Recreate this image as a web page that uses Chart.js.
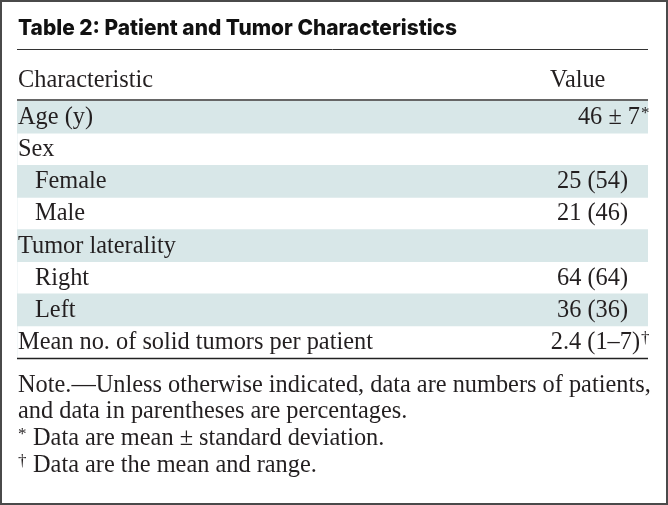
<!DOCTYPE html>
<html>
<head>
<meta charset="utf-8">
<script src="https://cdn.jsdelivr.net/npm/chart.js@4/dist/chart.umd.min.js"></script>
<style>
  html, body { margin: 0; padding: 0; background: #fff; }
  #wrap { width: 668px; height: 505px; }
</style>
</head>
<body>
<div id="wrap"><canvas id="table2" width="668" height="505"></canvas></div>
<script>
const title = 'Table 2: Patient and Tumor Characteristics';
const headers = ['Characteristic', 'Value'];
const rowLabels = ['Age (y)', 'Sex', 'Female', 'Male', 'Tumor laterality', 'Right', 'Left', 'Mean no. of solid tumors per patient'];
const rowIndent = [0, 0, 1, 1, 0, 1, 1, 0];
const rowValues = ['46 \u00b1 7', '', '25 (54)', '21 (46)', '', '64 (64)', '36 (36)', '2.4 (1\u20137)'];
const rowMarks = ['*', '', '', '', '', '', '', '\u2020'];
const rowShade = [1, 0, 1, 0, 1, 0, 1, 0];
const notes = [
  'Note.\u2014Unless otherwise indicated, data are numbers of patients,',
  'and data in parentheses are percentages.',
  '* Data are mean \u00b1 standard deviation.',
  '\u2020 Data are the mean and range.'
];

const serif = '"Liberation Serif", "DejaVu Serif", serif';
const ink = '#231f20';

const tablePlugin = {
  id: 'tableText',
  afterDraw(chart) {
    const ctx = chart.ctx;
    const area = chart.chartArea;
    const y = chart.scales.y;
    ctx.save();

    // body font size fitted to the widest row label
    ctx.font = '20px ' + serif;
    const bodySize = 20 * 355 / ctx.measureText(rowLabels[7]).width;
    const body = bodySize.toFixed(2) + 'px ' + serif;
    const small = (bodySize * 0.7).toFixed(2) + 'px ' + serif;

    // outer frame
    ctx.strokeStyle = '#4a4a4a';
    ctx.lineWidth = 2;
    ctx.strokeRect(1, 1, 666, 503);

    // title, squeezed to the reference width
    ctx.fillStyle = '#111';
    ctx.font = '800 22px Inter, Lato, "DejaVu Sans", sans-serif';
    ctx.textBaseline = 'alphabetic';
    const tw = ctx.measureText(title).width;
    ctx.save();
    ctx.translate(18, 35);
    ctx.scale(439 / tw, 1);
    ctx.fillText(title, 0, 0);
    ctx.restore();

    // rules
    ctx.strokeStyle = '#333';
    ctx.lineWidth = 1;
    ctx.beginPath();
    ctx.moveTo(area.left, 49.5);
    ctx.lineTo(area.right, 49.5);
    ctx.stroke();
    ctx.strokeStyle = '#666';
    ctx.lineWidth = 2;
    ctx.beginPath();
    ctx.moveTo(area.left, area.top - 1);
    ctx.lineTo(area.right, area.top - 1);
    ctx.stroke();
    ctx.strokeStyle = '#222';
    ctx.lineWidth = 1.5;
    ctx.beginPath();
    ctx.moveTo(area.left, area.bottom + 0.5);
    ctx.lineTo(area.right, area.bottom + 0.5);
    ctx.stroke();

    // header
    ctx.fillStyle = ink;
    ctx.font = body;
    ctx.textAlign = 'left';
    ctx.fillText(headers[0], 18, 87);
    ctx.fillText(headers[1], 550, 87);

    // rows
    rowLabels.forEach((lab, i) => {
      const cy = y.getPixelForValue(i) + 7;
      ctx.font = body;
      ctx.textAlign = 'left';
      ctx.fillText(lab, rowIndent[i] ? 35 : 18, cy);
      if (!rowValues[i]) return;
      ctx.textAlign = 'right';
      if (rowMarks[i]) {
        ctx.fillText(rowValues[i], 640, cy);
        ctx.textAlign = 'left';
        ctx.font = small;
        ctx.fillText(rowMarks[i], 641, cy - 6);
      } else {
        ctx.fillText(rowValues[i], 628, cy);
      }
    });

    // notes
    const noteY = [392, 418, 445, 472];
    notes.forEach((t, i) => {
      ctx.textAlign = 'left';
      if (i >= 2) {
        ctx.font = small;
        ctx.fillText(t[0], 18, noteY[i] - 6);
        ctx.font = body;
        ctx.fillText(t.slice(2), 33, noteY[i]);
      } else {
        ctx.font = body;
        ctx.fillText(t, 18, noteY[i]);
      }
    });
    ctx.restore();
  }
};

new Chart(document.getElementById('table2'), {
  type: 'bar',
  data: {
    labels: rowLabels,
    datasets: [{
      data: rowShade,
      backgroundColor: '#d8e7e8',
      borderWidth: 0,
      barPercentage: 1,
      categoryPercentage: 1
    }]
  },
  options: {
    indexAxis: 'y',
    responsive: false,
    animation: false,
    layout: { padding: { left: 17, right: 20, top: 101, bottom: 147 } },
    scales: {
      x: { display: false, min: 0, max: 1 },
      y: { display: false }
    },
    plugins: { legend: { display: false }, tooltip: { enabled: false } }
  },
  plugins: [tablePlugin]
});
</script>
</body>
</html>
